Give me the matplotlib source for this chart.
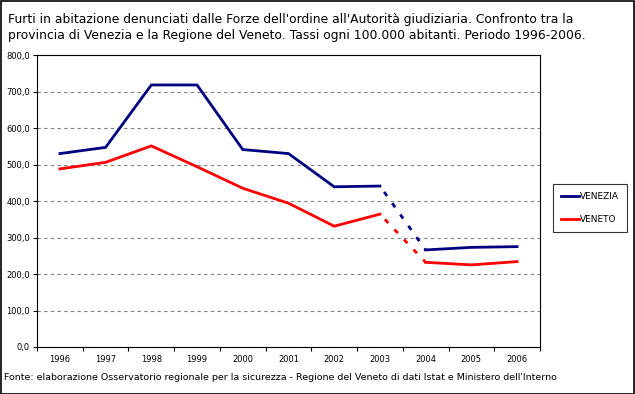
import matplotlib.pyplot as plt
import matplotlib.ticker as mticker
from matplotlib.patches import Rectangle
import numpy as np

plt.rcParams['font.family'] = ['DejaVu Sans']

anni = ["1996", "1997", "1998", "1999", "2000", "2001", "2002", "2003", "2004", "2005", "2006"]
venezia = [530, 547, 718, 718, 541, 530, 439, 441, 266, 273, 275]
veneto = [488, 506, 551, 494, 435, 394, 331, 364, 232, 225, 234]

SERIE = [
    ("VENEZIA", venezia, "#000080"),
    ("VENETO", veneto, "#FF0000"),
]

fig = plt.figure(figsize=(6.35, 3.94), dpi=100)
fig.patches.append(Rectangle((0.001, 0.001), 0.997, 0.996, transform=fig.transFigure,
                             fill=False, edgecolor="black", linewidth=1.2))

ax = fig.add_axes([0.0583, 0.1193, 0.792, 0.741])
x = np.arange(len(anni))
rottura = anni.index("2003")

for nome, val, col in SERIE:
    v = np.array(val, dtype=float)
    ax.plot(x[:rottura + 1], v[:rottura + 1], color=col, lw=2.0, solid_joinstyle="miter")
    ax.plot(x[rottura:rottura + 2], v[rottura:rottura + 2], color=col, lw=2.0,
            linestyle=(2.4, (1.8, 3.2)), dash_capstyle="butt")
    ax.plot(x[rottura + 1:], v[rottura + 1:], color=col, lw=2.0, label=nome)

ax.set_xlim(-0.5, len(anni) - 0.5)
ax.set_ylim(0, 800)
ax.set_xticks(x)
ax.set_xticklabels(anni, fontsize=6)
ax.tick_params(axis="x", which="major", length=0, pad=6)
ax.set_xticks(np.arange(-0.5, len(anni)), minor=True)
ax.tick_params(axis="x", which="minor", length=3, direction="out", width=0.8)
ax.set_yticks(np.arange(0, 801, 100))
ax.yaxis.set_major_formatter(mticker.FuncFormatter(lambda v, p: f"{v:.1f}".replace(".", ",")))
ax.tick_params(axis="y", length=3, direction="out", labelsize=6, pad=2, width=0.8)
ax.grid(axis="y", color="#808080", linestyle=(0, (3, 3)), linewidth=0.8)
ax.set_axisbelow(True)
for s in ax.spines.values():
    s.set_linewidth(0.8)

fig.legend(loc="upper left", bbox_to_anchor=(0.864, 0.545), fontsize=6.5,
           frameon=True, fancybox=False, edgecolor="black", handlelength=2.0,
           handletextpad=0.1, labelspacing=1.55, borderpad=0.9)
fig.legends[0].get_frame().set_linewidth(0.8)

fig.text(0.0126, 0.968,
         "Furti in abitazione denunciati dalle Forze dell'ordine all'Autorità giudiziaria. Confronto tra la\n"
         "provincia di Venezia e la Regione del Veneto. Tassi ogni 100.000 abitanti. Periodo 1996-2006.",
         fontsize=8.9, va="top", ha="left", linespacing=1.3)
fig.text(0.0063, 0.03,
         "Fonte: elaborazione Osservatorio regionale per la sicurezza - Regione del Veneto di dati Istat e Ministero dell'Interno",
         fontsize=6.8, va="bottom", ha="left")

plt.savefig("out.png", dpi=100)
